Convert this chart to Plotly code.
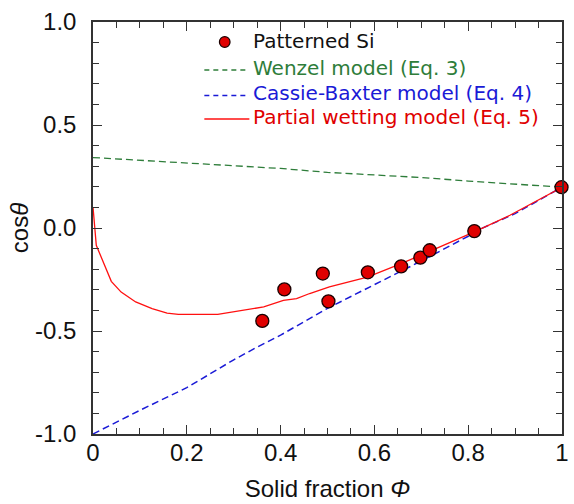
import plotly.graph_objects as go

# Measured data (Patterned Si)
phi_exp = [0.361, 0.408, 0.490, 0.502, 0.586, 0.657, 0.698, 0.718, 0.813, 0.999]
cos_exp = [-0.451, -0.298, -0.221, -0.356, -0.215, -0.186, -0.144, -0.108, -0.015, 0.198]

# Wenzel model (Eq. 3)
phi_w = [0.0, 0.1, 0.2, 0.3, 0.4, 0.5, 0.6, 0.7, 0.8, 0.9, 1.0]
cos_w = [0.342, 0.328, 0.316, 0.303, 0.289, 0.270, 0.258, 0.245, 0.228, 0.212, 0.198]

# Cassie-Baxter model (Eq. 4)
phi_cb = [0.0, 0.1, 0.2, 0.3, 0.35, 0.4, 0.5, 0.6, 0.657, 0.7, 0.8, 0.826, 0.9, 1.0]
cos_cb = [-1.0, -0.885, -0.775, -0.64, -0.578, -0.52, -0.39, -0.275, -0.207, -0.16, -0.04, -0.005, 0.07, 0.198]

# Partial wetting model (Eq. 5)
phi_pw = [0.0, 0.007, 0.039, 0.060, 0.091, 0.126, 0.158, 0.182, 0.266, 0.322, 0.364,
          0.406, 0.434, 0.462, 0.504, 0.585, 0.657, 0.714, 0.813, 0.889, 1.0]
cos_pw = [0.102, -0.084, -0.259, -0.311, -0.359, -0.391, -0.413, -0.419, -0.419, -0.400, -0.383,
          -0.351, -0.343, -0.318, -0.286, -0.238, -0.173, -0.117, -0.019, 0.062, 0.198]

x_tickvals = [0, 0.2, 0.4, 0.6, 0.8, 1.0]
x_ticktext = ["0", "0.2", "0.4", "0.6", "0.8", "1"]
y_tickvals = [1.0, 0.5, 0.0, -0.5, -1.0]
y_ticktext = ["1.0", "0.5", "0.0", "-0.5", "-1.0"]

legend_labels = ["Patterned Si", "Wenzel model (Eq. 3)",
                 "Cassie-Baxter model (Eq. 4)", "Partial wetting model (Eq. 5)"]

GREEN = "#2e7d3a"
BLUE = "#1a1ad6"
RED = "#ff1010"
TXT_RED = "#e00000"
DASH = "7px,4px"

# figure geometry (pixels)
W, H = 574, 504
ML, MR, MT, MB = 93, 5, 22, 70
PW, PH = W - ML - MR, H - MT - MB


def px(xp):
    return (xp - ML) / PW


def py(yp):
    return (H - MB - yp) / PH


fig = go.Figure()
fig.add_trace(go.Scatter(x=phi_w, y=cos_w, mode="lines",
                         line=dict(color=GREEN, width=1.3, dash=DASH),
                         name=legend_labels[1], showlegend=False))
fig.add_trace(go.Scatter(x=phi_cb, y=cos_cb, mode="lines",
                         line=dict(color=BLUE, width=1.5, dash=DASH),
                         name=legend_labels[2], showlegend=False))
fig.add_trace(go.Scatter(x=phi_pw, y=cos_pw, mode="lines",
                         line=dict(color=RED, width=1.3),
                         name=legend_labels[3], showlegend=False))
fig.add_trace(go.Scatter(x=phi_exp, y=cos_exp, mode="markers",
                         marker=dict(color=TXT_RED, size=13, line=dict(color="#1a0000", width=1.3)),
                         name=legend_labels[0], showlegend=False, cliponaxis=False))

font = "Arial, Liberation Sans, sans-serif"
leg_font = "DejaVu Sans, Arial, sans-serif"

# ---- manual legend (in paper coordinates) ----
text_rows_y = [41, 68, 93.5, 117]
line_rows_y = [42, 70, 95.5, 119]
leg_colors = ["#111111", GREEN, BLUE, TXT_RED]
line_x0, line_x1 = 206, 251.7
text_x = 253
shapes = []
annotations = []
r = 5.4
shapes.append(dict(type="circle", xref="paper", yref="paper",
                   x0=px(226.7 - r), x1=px(226.7 + r), y0=py(line_rows_y[0] + r), y1=py(line_rows_y[0] - r),
                   fillcolor=TXT_RED, line=dict(color="#1a0000", width=1.2)))
line_styles = [None, dict(color=GREEN, width=1.3, dash="5px,4px"),
               dict(color=BLUE, width=1.5, dash="5px,4px"),
               dict(color=RED, width=1.3)]
for i in range(1, 4):
    shapes.append(dict(type="line", xref="paper", yref="paper",
                       x0=px(line_x0), x1=px(line_x1), y0=py(line_rows_y[i]), y1=py(line_rows_y[i]),
                       line=line_styles[i]))
for i, lab in enumerate(legend_labels):
    annotations.append(dict(text=lab, xref="paper", yref="paper", x=px(text_x), y=py(text_rows_y[i]),
                            xanchor="left", yanchor="middle", showarrow=False,
                            font=dict(family=leg_font, size=20, color=leg_colors[i])))

axis_common = dict(showline=True, linecolor="#333333", linewidth=1.5, mirror="ticks",
                   ticks="inside", ticklen=9, tickwidth=1.3, tickcolor="#333333",
                   showgrid=False, zeroline=False,
                   tickfont=dict(family=font, size=24, color="#111111"))

fig.update_layout(
    width=W, height=H,
    margin=dict(l=ML, r=MR, t=MT, b=MB),
    paper_bgcolor="white", plot_bgcolor="white",
    showlegend=False,
    shapes=shapes,
    annotations=annotations,
    xaxis=dict(range=[0, 1], tickvals=x_tickvals, ticktext=x_ticktext,
               minor=dict(dtick=0.05, ticks="inside", ticklen=6, tickwidth=1.2, tickcolor="#333333"),
               ticklabelstandoff=-4,
               title=dict(text="Solid fraction <i>Φ</i>", font=dict(family=font, size=24, color="#111111"),
                          standoff=16),
               **axis_common),
    yaxis=dict(range=[-1.0, 1.0], tickvals=y_tickvals, ticktext=y_ticktext,
               minor=dict(dtick=0.1, ticks="inside", ticklen=6, tickwidth=1.2, tickcolor="#333333"),
               ticklabelstandoff=10,
               title=dict(text="cos<i>θ</i>", font=dict(family=font, size=24, color="#111111"),
                          standoff=0),
               **axis_common),
)

fig.write_html("out.html")
